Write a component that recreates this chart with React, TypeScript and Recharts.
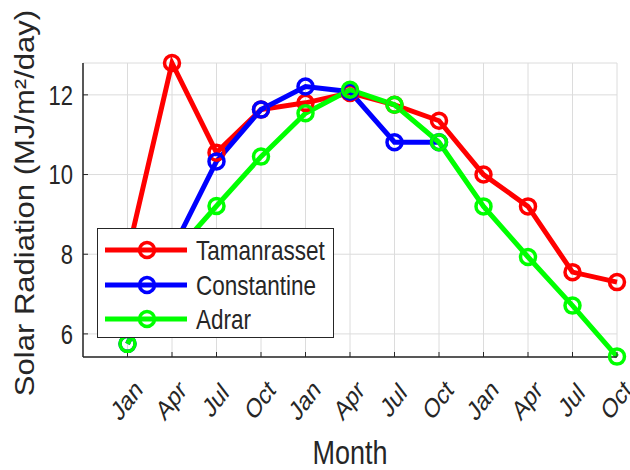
import { CartesianGrid, Legend, Line, LineChart, XAxis, YAxis } from "recharts";

const months = ["Jan", "Apr", "Jul", "Oct", "Jan", "Apr", "Jul", "Oct", "Jan", "Apr", "Jul", "Oct"];
const tamanrasset = [8.0, 12.8, 10.55, 11.63, 11.8, 12.05, 11.75, 11.35, 10.0, 9.2, 7.55, 7.3];
const constantine = [5.75, 8.1, 10.33, 11.63, 12.21, 12.08, 10.81, 10.81, null, null, null, null];
const adrar = [5.75, 7.95, 9.21, 10.45, 11.54, 12.13, 11.75, 10.81, 9.2, 7.93, 6.71, 5.43];
const yTicks = [6, 8, 10, 12];
const xTicks = months.map((_, i) => i + 1);

const series = [
  { key: "tamanrasset", name: "Tamanrasset", color: "#ff0000" },
  { key: "constantine", name: "Constantine", color: "#0000ff" },
  { key: "adrar", name: "Adrar", color: "#00ff00" },
];

const data = months.map((m, i) => ({
  idx: i + 1,
  month: m,
  tamanrasset: tamanrasset[i],
  constantine: constantine[i],
  adrar: adrar[i],
}));

const FONT = "'Liberation Sans', Arial, sans-serif";
const INK = "#262626";

function XTick({ x, payload }: any) {
  return (
    <g transform={`translate(${x - 1},400) scale(1,1.3) rotate(-45)`}>
      <text x={0} y={0} textAnchor="middle" dominantBaseline="central" fontSize={21} fontFamily={FONT} fill={INK}>
        {months[payload.value - 1]}
      </text>
    </g>
  );
}

function YTick({ y, payload }: any) {
  return (
    <g transform={`translate(73,${y}) scale(1,1.25)`}>
      <text x={0} y={0} textAnchor="end" dominantBaseline="central" fontSize={22} fontFamily={FONT} fill={INK}>
        {payload.value}
      </text>
    </g>
  );
}

function LegendBox() {
  const rows = [22, 57, 91];
  return (
    <svg width={237} height={110} style={{ display: "block" }}>
      <rect x={0.5} y={0.5} width={236} height={109} fill="#fff" stroke={INK} strokeWidth={1} />
      {series.map((s, i) => (
        <g key={s.key}>
          <line x1={8} x2={90} y1={rows[i]} y2={rows[i]} stroke={s.color} strokeWidth={5} />
          <circle cx={50} cy={rows[i]} r={7.5} fill="none" stroke={s.color} strokeWidth={3.5} />
          <g transform={`translate(99,${rows[i]}) scale(1,1.25)`}>
            <text x={0} y={0} dominantBaseline="central" fontSize={22.5} fontFamily={FONT} fill={INK}>
              {s.name}
            </text>
          </g>
        </g>
      ))}
    </svg>
  );
}

export default function App() {
  return (
    <div style={{ position: "absolute", left: 0, top: 0, background: "#fff" }}>
      <LineChart
        width={630}
        height={470}
        data={data}
        margin={{ top: 63, right: 13, bottom: 33, left: 23 }}
      >
        <CartesianGrid stroke="#dcdcdc" strokeWidth={1} />
        <XAxis
          dataKey="idx"
          type="number"
          domain={[0, 12]}
          ticks={xTicks}
          interval={0}
          height={80}
          tick={<XTick />}
          tickSize={-5}
          tickLine={{ stroke: INK }}
          axisLine={{ stroke: INK, strokeWidth: 1.5 }}
          label={() => (
            <g transform="translate(350,464) scale(1,1.2)">
              <text x={0} y={0} textAnchor="middle" fontSize={27} fontFamily={FONT} fill={INK}>
                Month
              </text>
            </g>
          )}
        />
        <YAxis
          type="number"
          domain={[5.42, 12.8]}
          ticks={yTicks}
          width={60}
          tick={<YTick />}
          tickSize={-5}
          tickLine={{ stroke: INK }}
          axisLine={{ stroke: INK, strokeWidth: 1.5 }}
          label={() => (
            <g transform="translate(34,203) rotate(-90) scale(1.15,1)">
              <text x={0} y={0} textAnchor="middle" fontSize={27} fontFamily={FONT} fill={INK}>
                Solar Radiation (MJ/m²/day)
              </text>
            </g>
          )}
        />
        {series.map((s) => (
          <Line
            key={s.key}
            type="linear"
            dataKey={s.key}
            name={s.name}
            stroke={s.color}
            strokeWidth={5}
            dot={{ r: 7.5, stroke: s.color, strokeWidth: 3.5, fill: "none" }}
            activeDot={false}
            isAnimationActive={false}
          />
        ))}
        <Legend
          layout="horizontal"
          verticalAlign="middle"
          align="center"
          content={() => <LegendBox />}
          wrapperStyle={{ left: 97, top: 228, width: 237, height: 110 }}
        />
      </LineChart>
    </div>
  );
}
